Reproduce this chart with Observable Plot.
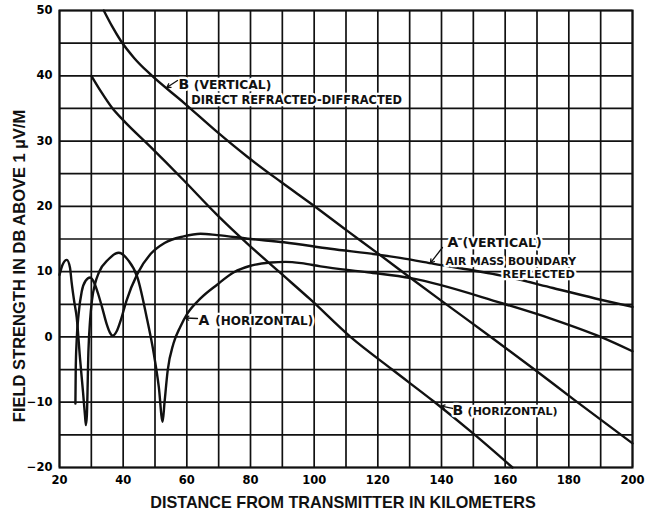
<!DOCTYPE html>
<html><head><meta charset="utf-8">
<script src="https://cdn.jsdelivr.net/npm/d3@7"></script>
<script src="https://cdn.jsdelivr.net/npm/@observablehq/plot@0.6"></script>
<style>body{margin:0;background:#fff}</style>
</head><body><div id="chart"></div>
<script>
// Tick labels and grid positions
const xTickLabels = [20, 40, 60, 80, 100, 120, 140, 160, 180, 200];
const yTickLabels = [-20, -10, 0, 10, 20, 30, 40, 50];
const xGrid = [20, 30, 40, 50, 60, 70, 80, 90, 100, 110, 120, 130, 140, 150, 160, 170, 180, 190, 200];
const yGrid = [-20, -15, -10, -5, 0, 5, 10, 15, 20, 25, 30, 35, 40, 45, 50];

// Series: [distance km, field strength dB]
const aHorizontal = [[20, 9.5], [21, 11.1], [22.3, 11.8], [23.3, 10.6], [23.8, 8.4], [24.6, 5.5], [25.4, 3], [26.5, -3.6], [27.4, -8.5], [28, -12], [28.3, -13.5], [28.6, -12], [29.1, -2], [29.6, 2.5], [30.2, 5.6], [31.2, 8.2], [32.4, 9.9], [35.4, 11.9], [38.6, 12.9], [41.5, 11.8], [44.5, 9.1], [47.6, 2.5], [49.6, -2.5], [51.2, -7.7], [52.4, -13], [53, -10], [54, -5.1], [55.8, -1], [58, 1.6], [60.2, 3.6], [64.3, 5.9], [69.5, 8], [74.8, 9.9], [80, 10.9], [86.4, 11.4], [91, 11.5], [96, 11.3], [102, 10.8], [116.9, 9.9], [130.4, 9], [158.7, 5.2], [175, 2.7], [190, 0], [200, -2.2]];
const aVertical = [[25, -10.2], [25.1, -5], [25.4, -0.5], [26, 3.5], [27, 7], [28.2, 8.6], [29.6, 9.1], [31, 8.2], [32.2, 6.5], [33.4, 4.5], [34.8, 2], [35.8, 0.7], [36.7, 0.2], [38, 0.9], [39.2, 2.5], [41, 5.5], [44.5, 9.7], [48.6, 12.7], [53, 14.4], [59, 15.4], [64.3, 15.8], [69.5, 15.6], [80, 15], [90.5, 14.5], [105.1, 13.5], [120, 12.6], [127, 12.1], [137.6, 11.2], [158.7, 9.4], [175, 7.5], [190, 5.7], [200, 4.6]];
const bHorizontal = [[30, 40], [33, 37.6], [36.5, 35.1], [40, 33.2], [48.6, 29.1], [59, 24], [69.5, 18.7], [79, 14.3], [89.4, 9.8], [98.9, 5.7], [111.4, 0], [124.5, -5], [137.6, -9.9], [150.2, -14.9], [162.3, -20]];
const bVertical = [[33.9, 50], [36.5, 47.6], [39.2, 45.4], [43.5, 42.7], [48.6, 40.2], [59, 35.9], [69.5, 31.4], [79, 27.6], [89.4, 23.8], [99.9, 20.1], [110, 16.4], [120, 12.8], [130.4, 9], [139.8, 5.6], [155.5, 0], [169, -4.9], [181.6, -9.6], [200, -16.3]];

const seriesNames = ["A (horizontal)", "A (vertical)", "B (horizontal)", "B (vertical)"];
const seriesValues = [aHorizontal, aVertical, bHorizontal, bVertical];

// Annotation texts (anchored in data units)
const labelTexts = ["B", "(VERTICAL)", "DIRECT REFRACTED-DIFFRACTED", "A", "(VERTICAL)", "AIR MASS BOUNDARY", "REFLECTED", "A", "(HORIZONTAL)", "B", "(HORIZONTAL)"];
const labelX = [57.38, 62.2, 61.37, 141.9, 146.6, 141.26, 159.2, 63.67, 68.9, 143.46, 148.2];
const labelY = [38.0, 38.0, 35.75, 13.8, 13.8, 10.97, 9.0, 1.9, 1.9, -12.03, -12.03];
const labelSize = [14, 12.3, 11.4, 14, 12.6, 10.8, 11.3, 14, 12, 14, 11];

const arrowFrom = [[57.07, 39.28], [140.3, 13.7], [63.35, 2.82], [143.46, -10.96]];
const arrowTo = [[53.7, 38.2], [136.5, 11.3], [59.5, 2.9], [140.0, -10.6]];

const xLabel = "DISTANCE FROM TRANSMITTER IN KILOMETERS";
const yLabel = "FIELD STRENGTH IN DB ABOVE 1 \u00B5V/M";

const lineData = seriesNames.flatMap((name, i) => seriesValues[i].map(([x, y]) => ({series: name, x, y})));
const labels = labelTexts.map((t, i) => ({text: t, x: labelX[i], y: labelY[i], size: labelSize[i]}));
const arrows = arrowFrom.map((f, i) => ({x1: f[0], y1: f[1], x2: arrowTo[i][0], y2: arrowTo[i][1]}));

const ink = "#111";
const chart = Plot.plot({
  width: 649, height: 510,
  marginLeft: 59, marginRight: 17, marginTop: 10, marginBottom: 43,
  x: {domain: [20, 200]},
  y: {domain: [-20, 50]},
  style: {fontFamily: "DejaVu Sans", background: "white", overflow: "visible"},
  marks: [
    Plot.ruleX(xGrid, {stroke: ink, strokeWidth: 1.7}),
    Plot.ruleY(yGrid, {stroke: ink, strokeWidth: 1.7}),
    Plot.frame({stroke: ink, strokeWidth: 2}),
    Plot.line(lineData, {x: "x", y: "y", z: "series", curve: "monotone-x", stroke: ink, strokeWidth: 2.4}),
    Plot.text(labels, {x: "x", y: "y", text: "text", fontSize: "size", textAnchor: "start", lineAnchor: "bottom",
      fill: ink, stroke: "white", strokeWidth: 4.5, paintOrder: "stroke", fontWeight: "bold"}),
    Plot.arrow(arrows, {x1: "x1", y1: "y1", x2: "x2", y2: "y2", stroke: ink, strokeWidth: 1.3, headLength: 5}),
    Plot.axisX(xTickLabels, {tickSize: 0, tickPadding: 8, fontSize: 11.5, fontWeight: "bold", label: null}),
    Plot.axisY(yTickLabels, {tickSize: 0, tickPadding: 7, fontSize: 11.5, fontWeight: "bold", label: null}),
    Plot.text([xLabel], {frameAnchor: "bottom", dx: -3, dy: 40, lineAnchor: "bottom", fontSize: 16.2,
      fontFamily: "Liberation Sans", fontWeight: "bold", fill: ink}),
    Plot.text([yLabel], {frameAnchor: "left", dx: -40, dy: 27, rotate: -90, lineAnchor: "middle", textAnchor: "middle",
      fontSize: 16.5, fontFamily: "Liberation Sans", fontWeight: "bold", fill: ink})
  ]
});
document.getElementById("chart").appendChild(chart);
</script>
</body></html>
